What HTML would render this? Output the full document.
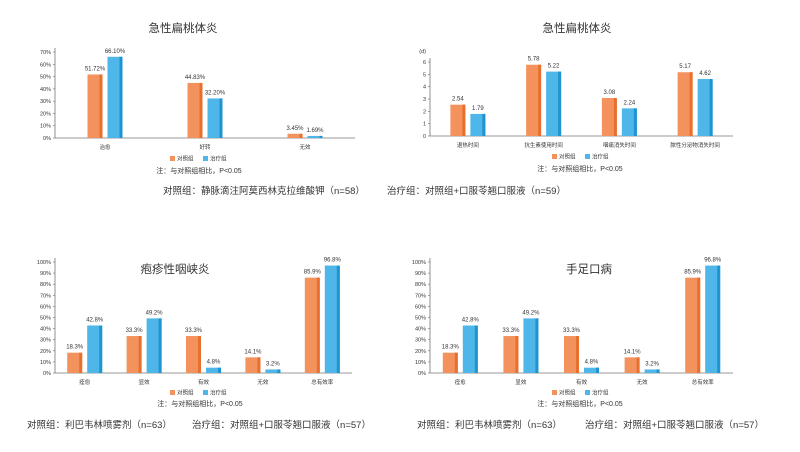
<!DOCTYPE html>
<html><head><meta charset="utf-8">
<style>
body{margin:0;background:#fff;font-family:"Liberation Sans","Noto Sans CJK SC",sans-serif;}
svg text{font-family:"Liberation Sans","Noto Sans CJK SC",sans-serif;}
</style></head>
<body>
<svg id="root" width="800" height="447" viewBox="0 0 800 447" xmlns="http://www.w3.org/2000/svg">
<rect width="800" height="447" fill="#fff"/>
</svg>
<script>
// Chart 1 data
const c1Categories = ['治愈','好转','无效'];
const c1Control = [51.72, 44.83, 3.45];
const c1Treat = [66.10, 32.20, 1.69];
const c1ControlLabels = ['51.72%','44.83%','3.45%'];
const c1TreatLabels = ['66.10%','32.20%','1.69%'];
const c1Ticks = [0,10,20,30,40,50,60,70];
// Chart 2 data
const c2Categories = ['退热时间','抗生素使用时间','咽痛消失时间','脓性分泌物消失时间'];
const c2Control = [2.54, 5.78, 3.08, 5.17];
const c2Treat = [1.79, 5.22, 2.24, 4.62];
const c2ControlLabels = ['2.54','5.78','3.08','5.17'];
const c2TreatLabels = ['1.79','5.22','2.24','4.62'];
const c2Ticks = [0,1,2,3,4,5,6];
// Chart 3 data
const c3Categories = ['痊愈','显效','有效','无效','总有效率'];
const c3Control = [18.3, 33.3, 33.3, 14.1, 85.9];
const c3Treat = [42.8, 49.2, 4.8, 3.2, 96.8];
const c3ControlLabels = ['18.3%','33.3%','33.3%','14.1%','85.9%'];
const c3TreatLabels = ['42.8%','49.2%','4.8%','3.2%','96.8%'];
const c3Ticks = [0,10,20,30,40,50,60,70,80,90,100];
// Chart 4 data
const c4Categories = ['痊愈','显效','有效','无效','总有效率'];
const c4Control = [18.3, 33.3, 33.3, 14.1, 85.9];
const c4Treat = [42.8, 49.2, 4.8, 3.2, 96.8];
const c4ControlLabels = ['18.3%','33.3%','33.3%','14.1%','85.9%'];
const c4TreatLabels = ['42.8%','49.2%','4.8%','3.2%','96.8%'];
const c4Ticks = [0,10,20,30,40,50,60,70,80,90,100];

const NS='http://www.w3.org/2000/svg';
const root=document.getElementById('root');
function mk(tag,attrs,parent,text){const e=document.createElementNS(NS,tag);for(const k in attrs)e.setAttribute(k,attrs[k]);if(text!==undefined)e.textContent=text;(parent||root).appendChild(e);return e;}

function chart(id,cfg,cats,ctrl,trt,cl,tl,ticks){
  const g=mk('g',{});
  
  
  const {x0,x1,y0,yTop,max,suffix}=cfg;
  const ys=v=>y0-(v/max)*(y0-yTop);
  const band=(x1-x0)/cats.length;
  ticks.forEach(t=>{
    const tx=mk('text',{x:x0-4,y:ys(t)+2,'font-size':5.5,'text-anchor':'end',fill:'#333'},g,t+suffix);
    
    
    mk('line',{x1:x0-2,x2:x0,y1:ys(t),y2:ys(t),stroke:'#666','stroke-width':0.6},g);
  });
  const ax=mk('line',{x1:x0,x2:x0,y1:yTop-4,y2:y0,stroke:'#777','stroke-width':0.8},g);
  
  
  const xa=mk('line',{x1:x0,x2:x1,y1:y0,y2:y0,stroke:'#777','stroke-width':0.8},g);
  
  
  const bw=15;
  cats.forEach((c,i)=>{
    const cx=x0+band*(i+0.5);
    [[ctrl[i],cl[i],cx-bw-2.5,'#f4925e','#e8702f','bar-control'],[trt[i],tl[i],cx+2.5,'#4eb6e8','#1e94d0','bar-treatment']].forEach(([v,l,bx,f,d,n])=>{
      const y=ys(v);
      const r=mk('rect',{x:bx,y:y,width:bw,height:y0-y,fill:f},g);
      
      
      mk('rect',{x:bx+bw-3,y:y,width:3,height:y0-y,fill:d},g);
      const t=mk('text',{x:bx+bw/2,y:y-4,'font-size':6,'text-anchor':'middle',fill:'#333'},g,l);
      
      
    });
    const ct=mk('text',{x:cx,y:y0+11,'font-size':5.5,'text-anchor':'middle',fill:'#333'},g,c);
    
    
  });
  // legend
  const lx=cfg.lx, ly=cfg.ly;
  mk('rect',{x:lx,y:ly-3,width:5,height:5,fill:'#f4925e'},g);
  const l1=mk('text',{x:lx+7,y:ly+1.5,'font-size':5.5,fill:'#333'},g,'对照组');
  
  
  mk('rect',{x:lx+33,y:ly-3,width:5,height:5,fill:'#4eb6e8'},g);
  const l2=mk('text',{x:lx+40,y:ly+1.5,'font-size':5.5,fill:'#333'},g,'治疗组');
  
  
  const nt=mk('text',{x:cfg.nx,y:cfg.ny,'font-size':7,'text-anchor':'middle',fill:'#333'},g,'注：与对照组相比，P<0.05');
  
  
  const ti=mk('text',{x:cfg.tx,y:cfg.ty,'font-size':11.5,'text-anchor':'middle',fill:'#333'},g,cfg.title);
  
  
  return g;
}

chart('chart-tonsillitis-efficacy',{x0:55,x1:355,y0:138,yTop:52,max:70,suffix:'%',lx:170,ly:159,nx:199,ny:173,tx:183,ty:32,title:'急性扁桃体炎'},c1Categories,c1Control,c1Treat,c1ControlLabels,c1TreatLabels,c1Ticks);
chart('chart-tonsillitis-time',{x0:430,x1:733,y0:136,yTop:62,max:6,suffix:'',lx:552,ly:157,nx:580,ny:171,tx:577,ty:32,title:'急性扁桃体炎'},c2Categories,c2Control,c2Treat,c2ControlLabels,c2TreatLabels,c2Ticks);
chart('chart-herpangina',{x0:55,x1:352,y0:373,yTop:262,max:100,suffix:'%',lx:170,ly:393,nx:200,ny:406,tx:175,ty:273,title:'疱疹性咽峡炎'},c3Categories,c3Control,c3Treat,c3ControlLabels,c3TreatLabels,c3Ticks);
chart('chart-hfmd',{x0:430,x1:733,y0:373,yTop:262,max:100,suffix:'%',lx:552,ly:393,nx:580,ny:406,tx:589,ty:273,title:'手足口病'},c4Categories,c4Control,c4Treat,c4ControlLabels,c4TreatLabels,c4Ticks);

const a=mk('text',{x:163,y:194,'font-size':9.5,fill:'#333'},root,'对照组：静脉滴注阿莫西林克拉维酸钾（n=58）');


const b=mk('text',{x:387,y:194,'font-size':9.5,fill:'#333'},root,'治疗组：对照组+口服苓翘口服液（n=59）');


const c=mk('text',{x:27,y:428,'font-size':9.5,fill:'#333'},root,'对照组：利巴韦林喷雾剂（n=63）');


const d=mk('text',{x:192,y:428,'font-size':9.5,fill:'#333'},root,'治疗组：对照组+口服苓翘口服液（n=57）');


const e=mk('text',{x:417,y:428,'font-size':9.5,fill:'#333'},root,'对照组：利巴韦林喷雾剂（n=63）');


const f=mk('text',{x:585,y:428,'font-size':9.5,fill:'#333'},root,'治疗组：对照组+口服苓翘口服液（n=57）');


const u=mk('text',{x:426,y:53,'font-size':5.5,'text-anchor':'end',fill:'#333'},root,'(d)');


</script>
</body></html>
